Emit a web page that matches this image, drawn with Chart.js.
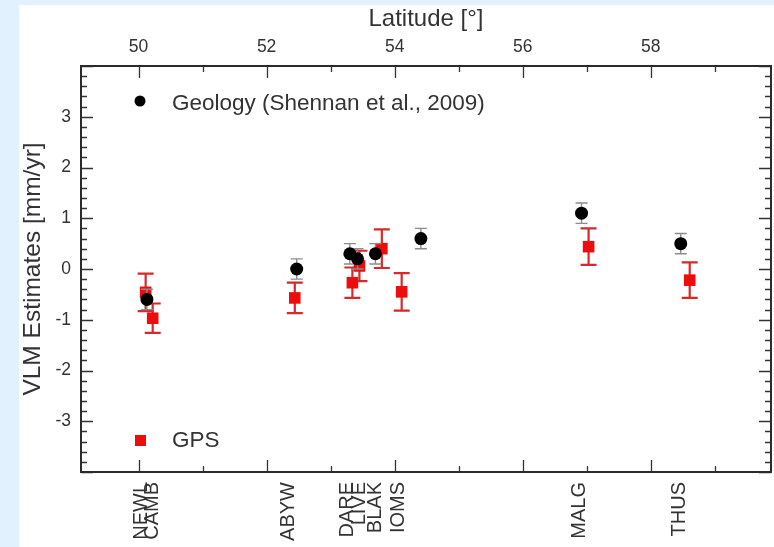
<!DOCTYPE html>
<html><head><meta charset="utf-8">
<script src="https://cdn.jsdelivr.net/npm/chart.js@4.4.1/dist/chart.umd.min.js"></script>
<style>html,body{margin:0;padding:0;background:#fff;overflow:hidden}canvas{display:block;width:774px;height:547px}</style>
</head><body>
<canvas id="c" width="774" height="547"></canvas>
<script>
// ---- data ----
const stationNames = ['NEWL','CAMB','ABYW','DARE','LIVE','BLAK','IOMS','MALG','THUS'];
const stationLat   = [50.05, 50.22, 52.34, 53.27, 53.45, 53.70, 54.06, 56.89, 58.45];

const geoLat = [50.13, 52.47, 53.30, 53.42, 53.70, 54.41, 56.92, 58.47];
const geoVLM = [-0.60, 0.00, 0.30, 0.20, 0.30, 0.60, 1.10, 0.50];
const geoErr = [0.20, 0.20, 0.20, 0.20, 0.20, 0.20, 0.20, 0.20];

const gpsLat = [50.11, 50.22, 52.44, 53.34, 53.45, 53.80, 54.11, 57.03, 58.61];
const gpsVLM = [-0.46, -0.97, -0.57, -0.27, 0.06, 0.40, -0.45, 0.44, -0.22];
const gpsErr = [0.37, 0.29, 0.30, 0.30, 0.30, 0.38, 0.37, 0.36, 0.35];

const latTicks = [50, 52, 54, 56, 58];
const vlmTicks = [-3, -2, -1, 0, 1, 2, 3];
const geoLabel = 'Geology (Shennan et al., 2009)';
const gpsLabel = 'GPS';

const F = "'Liberation Sans', Arial, Helvetica, sans-serif";
const TXT = '#333';

const deco = {
  id: 'deco',
  beforeDraw(chart) {
    const c = chart.ctx;
    c.save();
    c.fillStyle = '#e1f1fd';
    c.fillRect(0, 0, chart.width, chart.height);
    c.fillStyle = '#ffffff';
    c.fillRect(19, 5, chart.width - 19, chart.height - 5);
    c.restore();
  },
  beforeDatasetDraw(chart, args) {
    const ds = chart.data.datasets[args.index];
    const xs = chart.scales.x, ys = chart.scales.y, c = chart.ctx;
    c.save();
    c.strokeStyle = ds.errColor;
    c.lineWidth = ds.errWidth;
    ds.data.forEach((p, i) => {
      const x = xs.getPixelForValue(p.x);
      const y1 = ys.getPixelForValue(p.y - ds.err[i]);
      const y2 = ys.getPixelForValue(p.y + ds.err[i]);
      const w = ds.capHalf;
      c.beginPath();
      c.moveTo(x, y1); c.lineTo(x, y2);
      c.moveTo(x - w, y1); c.lineTo(x + w, y1);
      c.moveTo(x - w, y2); c.lineTo(x + w, y2);
      c.stroke();
    });
    c.restore();
  },
  afterDraw(chart) {
    const c = chart.ctx, a = chart.chartArea;
    const xs = chart.scales.x, ys = chart.scales.y;
    c.save();
    c.strokeStyle = TXT;
    c.lineWidth = 1.3;
    c.beginPath();
    for (let k = -40; k <= 40; k += 2) {
      const major = k % 10 === 0;
      const len = major ? 12 : 6;
      const y = Math.round(ys.getPixelForValue(k / 10)) + 0.5;
      c.moveTo(a.left, y); c.lineTo(a.left + len, y);
      c.moveTo(a.right, y); c.lineTo(a.right - len, y);
    }
    for (let v = 50; v <= 59; v++) {
      const len = v % 2 === 0 ? 12 : 6;
      const x = Math.round(xs.getPixelForValue(v)) + 0.5;
      c.moveTo(x, a.top); c.lineTo(x, a.top + len);
      c.moveTo(x, a.bottom); c.lineTo(x, a.bottom - len);
    }
    c.stroke();
    c.lineWidth = 2;
    c.strokeStyle = '#2b2b2b';
    c.strokeRect(a.left, a.top, a.right - a.left, a.bottom - a.top);

    // legend entries placed inside the plot area
    const g = chart.data.datasets[0], r = chart.data.datasets[1];
    c.fillStyle = g.backgroundColor;
    c.beginPath(); c.arc(a.left + 59, a.top + 35, 5.5, 0, Math.PI * 2); c.fill();
    c.fillStyle = r.backgroundColor;
    c.fillRect(a.left + 54, a.top + 369, 11, 11);
    c.fillStyle = TXT;
    c.font = '22.5px ' + F;
    c.textBaseline = 'middle';
    c.textAlign = 'left';
    c.fillText(g.label, a.left + 91, a.top + 38);
    c.fillText(r.label, a.left + 91, a.top + 375);
    c.restore();
  }
};

new Chart(document.getElementById('c'), {
  type: 'scatter',
  data: {
    datasets: [
      {
        label: geoLabel,
        data: geoLat.map((x, i) => ({ x, y: geoVLM[i] })),
        err: geoErr, errColor: '#8c8c8c', errWidth: 1.4, capHalf: 6,
        pointStyle: 'circle', pointRadius: 6.5, pointHoverRadius: 6.5,
        backgroundColor: '#000000', borderColor: '#000000', borderWidth: 0
      },
      {
        label: gpsLabel,
        data: gpsLat.map((x, i) => ({ x, y: gpsVLM[i] })),
        err: gpsErr, errColor: '#d42a2a', errWidth: 2.2, capHalf: 8,
        pointStyle: 'rect', pointRadius: 8.2, pointHoverRadius: 8.2,
        backgroundColor: '#ee0d0d', borderColor: '#ee0d0d', borderWidth: 0
      }
    ]
  },
  options: {
    responsive: false,
    animation: false,
    events: [],
    layout: { autoPadding: false, padding: { left: 19, top: 5, right: 3, bottom: 0 } },
    plugins: { legend: { display: false }, tooltip: { enabled: false } },
    scales: {
      x: {
        type: 'linear', position: 'top', min: 49.1, max: 59.88,
        afterBuildTicks: s => { s.ticks = latTicks.map(v => ({ value: v })); },
        afterFit: s => { s.height = 61; s.paddingLeft = 0; s.paddingRight = 0; },
        grid: { display: false, drawTicks: false }, border: { display: false },
        ticks: { color: TXT, font: { size: 17.5, family: F }, padding: 8, maxRotation: 0, autoSkip: false },
        title: { display: true, text: 'Latitude [°]', color: TXT, font: { size: 24, family: F }, padding: 0 }
      },
      xb: {
        type: 'linear', position: 'bottom', min: 49.1, max: 59.88,
        afterBuildTicks: s => { s.ticks = stationLat.map(v => ({ value: v })); },
        afterFit: s => { s.height = 75; s.paddingLeft = 0; s.paddingRight = 0; },
        grid: { display: false, drawTicks: false }, border: { display: false },
        ticks: {
          color: TXT, font: { size: 20, family: F }, padding: 10,
          minRotation: 90, maxRotation: 90, autoSkip: false,
          callback: (v, i) => stationNames[i]
        }
      },
      y: {
        type: 'linear', position: 'left', min: -4, max: 4,
        afterBuildTicks: s => { s.ticks = vlmTicks.map(v => ({ value: v })); },
        afterFit: s => { s.width = 62; },
        grid: { display: false, drawTicks: false }, border: { display: false },
        ticks: { color: TXT, font: { size: 17.5, family: F }, padding: 10 },
        title: { display: true, text: 'VLM Estimates [mm/yr]', color: TXT, font: { size: 24.5, family: F }, padding: 0 }
      }
    }
  },
  plugins: [deco]
});
</script>
</body></html>
